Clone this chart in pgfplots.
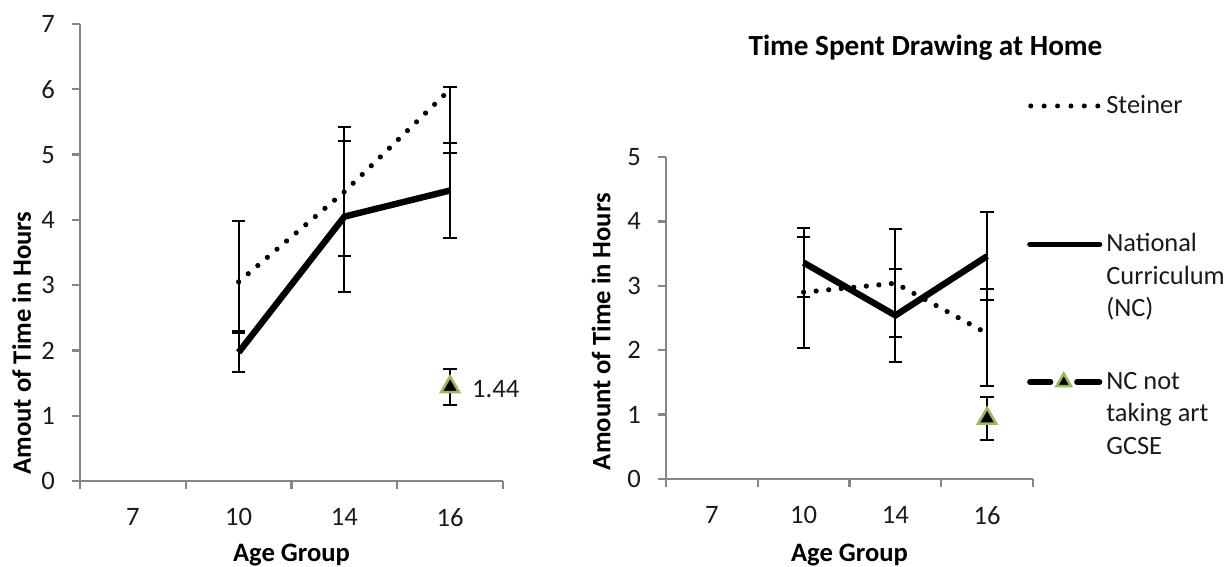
\documentclass[border=0pt]{standalone}
\usepackage{pgfplots}
\pgfplotsset{compat=1.18}
\usepackage{fontspec}
\setmainfont{Carlito}
\definecolor{axgray}{HTML}{868686}
\definecolor{trigreen}{HTML}{9BBB59}
\definecolor{txt}{HTML}{1A1A1A}

\pgfplotsset{
  exstyle/.style={
    scale only axis,
    axis x line*=bottom, axis y line*=left,
    axis line style={-, axgray, line width=1.2pt},
    every tick/.style={axgray, line width=1.2pt},
    tick align=outside,
    major tick length=4pt,
    xmin=-0.5, xmax=3.5,
    xtick={-0.5,0.5,1.5,2.5,3.5},
    xticklabels={},
    extra x ticks={0,1,2,3},
    extra x tick labels={7,10,14,16},
    extra x tick style={major tick length=0pt, xticklabel style={yshift=-10pt}},
    yticklabel style={xshift=-5pt},
    /pgf/number format/assume math mode=true,
    ticklabel style={font=\fontsize{13.3}{15}\selectfont, text=txt},
    label style={font=\bfseries\fontsize{13.3}{15}\selectfont, text=black},
    xlabel={Age Group},
    error bars/error bar style={solid, black, line width=1pt},
    error bars/error mark options={rotate=90, mark size=3.4pt, line width=1pt, black, solid},
    clip=false,
  },
  steiner/.style={black, line width=2.6pt, line cap=round, dash pattern=on 0pt off 6.3pt, mark=none,
    error bars/y dir=both, error bars/y explicit},
  ncline/.style={black, line width=3.2pt, mark=none, error bars/y dir=both, error bars/y explicit},
  ncnot/.style={black, only marks, mark=triangle*, mark size=5.2pt,
    mark options={fill=black, draw=trigreen, line width=1.3pt, solid},
    error bars/y dir=both, error bars/y explicit},
}

\begin{document}
\begin{tikzpicture}
\useasboundingbox (0,0) rectangle (613.5pt,283.5pt);
% left panel
\begin{axis}[exstyle,
  at={(40pt,43pt)}, anchor=south west,
  width=211.5pt, height=228.5pt,
  ymin=0, ymax=7, ytick={0,1,2,3,4,5,6,7},
  ylabel={Amout of Time in Hours},
  ylabel style={at={(axis description cs:-0.138,0.302)}, anchor=center},
  xlabel style={at={(axis description cs:0.5,-0.162)}, anchor=center},
]
\addplot[steiner] coordinates {
  (1,3.05) += (0,0.93) -= (0,0.75)
  (2,4.43) += (0,0.99) -= (0,0.99)
  (3,6.00) += (0,0.03) -= (0,0.98)
};
\addplot[ncline] coordinates {
  (1,1.97) += (0,0.30) -= (0,0.30)
  (2,4.05) += (0,1.16) -= (0,1.16)
  (3,4.45) += (0,0.73) -= (0,0.73)
};
\addplot[ncnot, point meta=explicit symbolic, nodes near coords,
  every node near coord/.append style={anchor=west, xshift=7pt, yshift=-1pt, font=\fontsize{13.3}{15}\selectfont, text=txt}]
  coordinates {
  (3,1.44) += (0,0.27) -= (0,0.27) [1.44]
};
\end{axis}
% right panel
\begin{axis}[exstyle,
  at={(333pt,44pt)}, anchor=south west,
  width=183.5pt, height=161pt,
  ymin=0, ymax=5, ytick={0,1,2,3,4,5},
  ylabel={Amount of Time in Hours},
  ylabel style={at={(axis description cs:-0.177,0.458)}, anchor=center},
  xlabel style={at={(axis description cs:0.5,-0.236)}, anchor=center},
  title={Time Spent Drawing at Home},
  title style={at={(axis description cs:0.707,1.301)}, anchor=center, font=\bfseries\fontsize{14.6}{16}\selectfont},
  legend style={at={(axis description cs:0.983,1.205)}, anchor=north west, draw=none, fill=none,
    inner sep=0pt, row sep=54.5pt, column sep=0pt,
    font=\fontsize{13.2}{16.25}\selectfont, text=txt},
  legend cell align=left,
  legend image code/.code={\draw[mark repeat=2,mark phase=2] plot coordinates {(0pt,0pt)(18pt,0pt)(36pt,0pt)};},
]
\addplot[steiner, legend image code/.code={
    \draw[line width=2.5pt, line cap=round, dash pattern=on 0pt off 6.7pt] (1pt,0pt) -- (35pt,0pt);}] coordinates {
  (1,2.90) += (0,0.86) -= (0,0.86)
  (2,3.04) += (0,0.84) -= (0,0.84)
  (3,2.26) += (0,0.69) -= (0,0.81)
};
\addlegendentry{\parbox[t]{72pt}{Steiner}}
\addplot[ncline, legend image code/.code={
    \draw[line width=2.6pt, line cap=round] (0.5pt,0pt) -- (35.5pt,0pt);}] coordinates {
  (1,3.36) += (0,0.54) -= (0,0.54)
  (2,2.54) += (0,0.72) -= (0,0.72)
  (3,3.46) += (0,0.68) -= (0,0.68)
};
\addlegendentry{\parbox[t]{72pt}{\raggedright National\\Curriculum\\(NC)}}
\addplot[ncnot, legend image code/.code={
    \path[draw=black, line width=2.6pt, line cap=round] (0.5pt,0pt) -- (11pt,0pt) (24pt,0pt) -- (35.5pt,0pt);
    \draw[mark size=4.2pt] plot coordinates {(17.5pt,0pt)};}] coordinates {
  (3,0.94) += (0,0.34) -= (0,0.34)
};
\addlegendentry{\parbox[t]{72pt}{\raggedright NC not\\taking art\\GCSE}}
\end{axis}
\end{tikzpicture}
\end{document}
